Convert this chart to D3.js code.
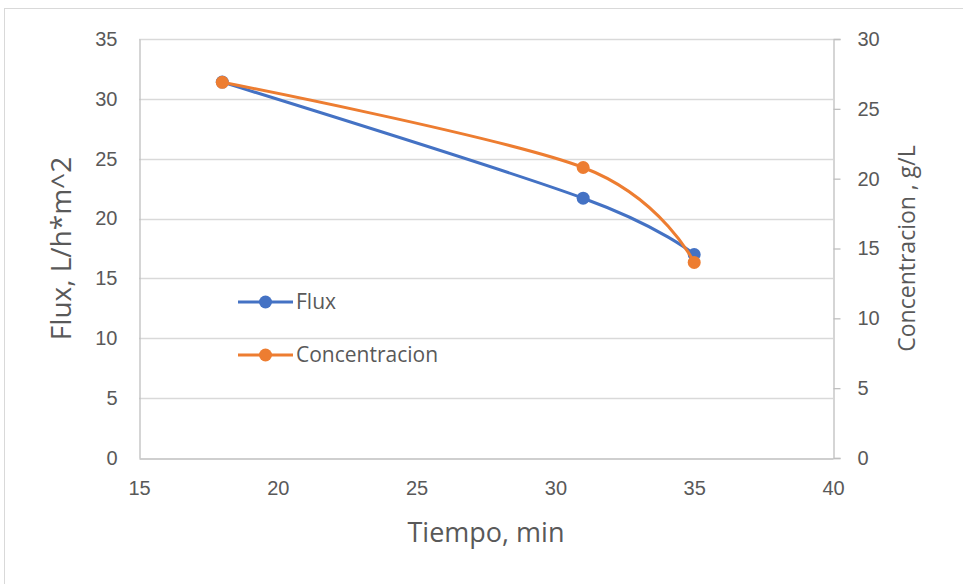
<!DOCTYPE html>
<html>
<head>
<meta charset="utf-8">
<script src="https://cdn.jsdelivr.net/npm/d3@7"></script>
<style>
  html, body { margin: 0; padding: 0; background: #fff; }
  svg { display: block; font-family: "Open Sans", "Noto Sans", sans-serif; }
</style>
</head>
<body>
<svg id="chart" width="963" height="584"></svg>
<script>
// Tiempo (min) at each sample
const tiempo = [18, 31, 35];
// Flux, L/h*m^2 (left axis)
const flux = [31.4, 21.7, 17.0];
// Concentracion, g/L (right axis)
const concentracion = [26.9, 20.8, 14.0];

const xTicks = [15, 20, 25, 30, 35, 40];
const yLeftTicks = [0, 5, 10, 15, 20, 25, 30, 35];
const yRightTicks = [0, 5, 10, 15, 20, 25, 30];

const seriesNames = ["Flux", "Concentracion"];
const colors = ["#4472c4", "#ed7d31"];

const svg = d3.select("#chart");
const W = 963, H = 584;
const plot = { left: 139, top: 39, right: 833, bottom: 458 };
const textColor = "#595959";
const gridColor = "#d9d9d9";
const axisColor = "#bfbfbf";

// Chart frame
svg.append("rect")
  .attr("x", 4.5).attr("y", 8.5)
  .attr("width", W + 10).attr("height", H + 10)
  .attr("fill", "#fff").attr("stroke", gridColor).attr("stroke-width", 1);

const x = d3.scaleLinear().domain([15, 40]).range([plot.left, plot.right]);
const yL = d3.scaleLinear().domain([0, 35]).range([plot.bottom, plot.top]);
const yR = d3.scaleLinear().domain([0, 30]).range([plot.bottom, plot.top]);

// Horizontal gridlines
svg.append("g")
  .selectAll("line")
  .data(yLeftTicks.filter(d => d > 0))
  .join("line")
  .attr("x1", plot.left).attr("x2", plot.right)
  .attr("y1", d => Math.round(yL(d)) + 0.5).attr("y2", d => Math.round(yL(d)) + 0.5)
  .attr("stroke", gridColor).attr("stroke-width", 1.3);

// Left axis
const gL = svg.append("g").attr("transform", `translate(${plot.left + 0.5},0)`)
  .call(d3.axisLeft(yL).tickValues(yLeftTicks).tickSize(0).tickPadding(22));
gL.select(".domain").attr("stroke", axisColor).attr("stroke-width", 1.3);
gL.selectAll("text").attr("fill", textColor).attr("font-size", 20);

// Right axis
const gR = svg.append("g").attr("transform", `translate(${plot.right + 0.5},0)`)
  .call(d3.axisRight(yR).tickValues(yRightTicks).tickSize(7).tickSizeOuter(7).tickPadding(17));
gR.select(".domain").attr("stroke", axisColor).attr("stroke-width", 1.3);
gR.selectAll(".tick line").attr("stroke", axisColor).attr("stroke-width", 1.3);
gR.selectAll("text").attr("fill", textColor).attr("font-size", 20);

// Bottom axis
const gB = svg.append("g").attr("transform", `translate(0,${plot.bottom + 0.5})`)
  .call(d3.axisBottom(x).tickValues(xTicks).tickSize(0).tickPadding(22));
gB.select(".domain").attr("stroke", axisColor).attr("stroke-width", 1.3);
gB.selectAll("text").attr("fill", textColor).attr("font-size", 20);

// Axis titles
svg.append("text")
  .attr("transform", `translate(71,${(plot.top + plot.bottom) / 2}) rotate(-90)`)
  .attr("text-anchor", "middle").attr("fill", textColor).attr("font-size", 28)
  .text("Flux, L/h*m^2");
svg.append("text")
  .attr("transform", `translate(915,${(plot.top + plot.bottom) / 2}) rotate(-90)`)
  .attr("text-anchor", "middle").attr("fill", textColor).attr("font-size", 23)
  .text("Concentracion , g/L");
svg.append("text")
  .attr("x", (plot.left + plot.right) / 2).attr("y", 542)
  .attr("text-anchor", "middle").attr("fill", textColor).attr("font-size", 27)
  .text("Tiempo, min");

// Series
const series = [
  { name: seriesNames[0], color: colors[0], y: yL, values: flux },
  { name: seriesNames[1], color: colors[1], y: yR, values: concentracion }
];
const line = (s) => d3.line()
  .x((d, i) => x(tiempo[i]))
  .y(d => s.y(d))
  .curve(d3.curveCatmullRom.alpha(0));

series.forEach(s => {
  const g = svg.append("g");
  g.append("path")
    .attr("d", line(s)(s.values))
    .attr("fill", "none").attr("stroke", s.color).attr("stroke-width", 3)
    .attr("stroke-linecap", "round");
  g.selectAll("circle")
    .data(s.values)
    .join("circle")
    .attr("cx", (d, i) => x(tiempo[i]))
    .attr("cy", d => s.y(d))
    .attr("r", 6.5)
    .attr("fill", s.color);
});

// Legend
const legend = svg.append("g");
const legendY = [302, 355];
series.forEach((s, i) => {
  const g = legend.append("g").attr("transform", `translate(238,${legendY[i]})`);
  g.append("line").attr("x1", 0).attr("x2", 55).attr("y1", 0).attr("y2", 0)
    .attr("stroke", s.color).attr("stroke-width", 3);
  g.append("circle").attr("cx", 27.5).attr("cy", 0).attr("r", 6.5).attr("fill", s.color);
  g.append("text").attr("x", 58).attr("y", 0).attr("dy", "0.35em")
    .attr("fill", textColor).attr("font-size", 21).text(s.name);
});
</script>
</body>
</html>
